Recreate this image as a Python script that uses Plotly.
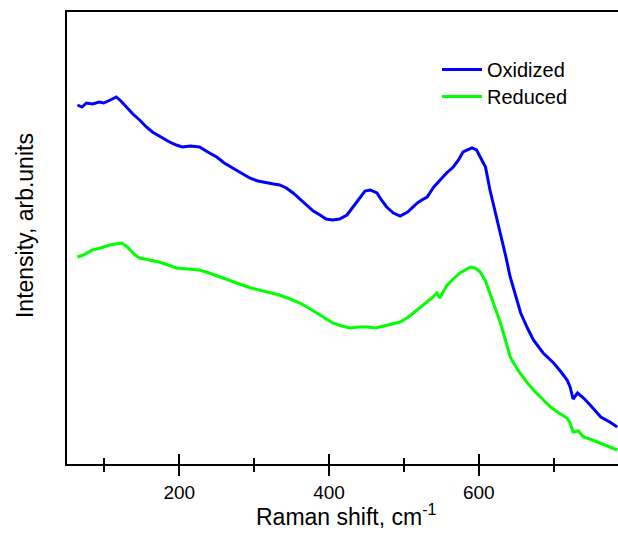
import plotly.graph_objects as go

# Raman shift (cm^-1) and intensities (arb. units)
ox_x = [64, 70, 76, 84, 93, 99, 105, 111, 116, 122, 129, 138, 147, 156, 164, 175,
        187, 196, 204, 215, 227, 238, 250, 260, 271, 282, 294, 305, 317, 326, 334,
        343, 352, 361, 370, 379, 388, 396, 405, 414, 424, 432, 441, 448, 455, 464,
        470, 477, 486, 495, 505, 512, 518, 524, 531, 540, 548, 557, 566, 573, 579,
        585, 591, 597, 602, 609, 615, 622, 629, 636, 642, 649, 656, 665, 673, 686,
        700, 710, 718, 722, 726, 732, 740, 750, 763, 775, 785]
ox_y = [358, 356, 360, 359, 361, 360, 362, 364, 366, 362, 356, 349, 343, 336, 331,
        326, 321, 318, 316, 317, 316, 311, 306, 300, 295, 290, 285, 282, 280, 279,
        278, 275, 270, 264, 258, 252, 248, 244, 243, 244, 248, 256, 266, 272, 273,
        270, 263, 256, 250, 247, 251, 256, 260, 263, 266, 276, 283, 290, 296, 303,
        311, 313, 315, 313, 306, 296, 273, 252, 230, 207, 186, 167, 150, 135, 123,
        110, 100, 91, 83, 76, 64, 70, 65, 57, 46, 41, 36]

red_x = [64, 72, 84, 95, 107, 115, 123, 129, 135, 141, 147, 160, 173, 185, 196, 211,
         227, 240, 254, 269, 284, 296, 307, 320, 334, 348, 361, 373, 384, 395, 405,
         417, 428, 440, 451, 462, 472, 484, 495, 506, 518, 529, 539, 544, 548, 553,
         558, 566, 575, 582, 589, 595, 602, 609, 615, 622, 629, 636, 642, 649, 655,
         664, 673, 685, 696, 707, 718, 722, 726, 733, 740, 752, 763, 775, 785]
red_y = [206, 208, 213, 215, 218, 219, 220, 217, 212, 208, 205, 203, 201, 198, 195,
         194, 193, 190, 186, 182, 178, 175, 173, 170, 168, 164, 160, 155, 150, 145,
         140, 137, 135, 136, 136, 135, 137, 139, 141, 146, 153, 160, 166, 170, 165,
         172, 178, 184, 190, 193, 196, 195, 191, 182, 170, 156, 140, 122, 106, 97,
         90, 81, 73, 64, 56, 50, 45, 40, 31, 32, 26, 23, 20, 16, 13]

x_range = [50, 786]
major_ticks = [200, 400, 600]
major_labels = ["200", "400", "600"]
minor_ticks = [100, 300, 500, 700]

fig = go.Figure()
fig.add_trace(go.Scatter(x=ox_x, y=ox_y, mode="lines", name="Oxidized",
                         line=dict(color="#0000FF", width=3), legend="legend"))
fig.add_trace(go.Scatter(x=red_x, y=red_y, mode="lines", name="Reduced",
                         line=dict(color="#00FF00", width=3), legend="legend2"))
# invisible trace on the overlay axis so the inside ticks render
fig.add_trace(go.Scatter(x=[x_range[0]], y=[0], xaxis="x2", mode="markers",
                         marker=dict(opacity=0), showlegend=False, hoverinfo="skip"))

font_family = "Liberation Sans, Arial, sans-serif"
leg_common = dict(xanchor="left", yanchor="top", bgcolor="rgba(0,0,0,0)",
                  font=dict(size=20, family=font_family), itemwidth=40)
fig.update_layout(
    width=618, height=533,
    margin=dict(l=67, r=0, t=12, b=69),
    paper_bgcolor="white", plot_bgcolor="white",
    font=dict(family=font_family, color="black"),
    showlegend=True,
    legend=dict(x=0.6715, y=0.916, **leg_common),
    legend2=dict(x=0.6715, y=0.856, **leg_common),
    xaxis=dict(range=x_range, showgrid=False, zeroline=False,
               showline=True, linecolor="black", linewidth=2, mirror=True,
               ticks="outside", ticklen=10, tickwidth=1.5, tickcolor="black",
               tickvals=major_ticks, ticktext=major_labels,
               tickfont=dict(size=19, family=font_family),
               minor=dict(tickvals=minor_ticks, ticks="outside",
                          ticklen=6, tickwidth=1.5, tickcolor="black")),
    xaxis2=dict(range=x_range, overlaying="x", anchor="y", side="bottom",
                showgrid=False, zeroline=False, showline=False,
                ticks="inside", ticklen=10, tickwidth=1.5, tickcolor="black",
                tickvals=major_ticks, showticklabels=False,
                minor=dict(tickvals=minor_ticks, ticks="inside",
                           ticklen=6, tickwidth=1.5, tickcolor="black")),
    yaxis=dict(range=[-1, 451], showgrid=False, zeroline=False,
               showline=True, linecolor="black", linewidth=2,
               showticklabels=False, ticks=""),
    annotations=[
        dict(text="Raman shift, cm<sup>-1</sup>", xref="paper", yref="paper",
             x=0.508, y=-0.1515, xanchor="center", yanchor="bottom",
             showarrow=False, font=dict(size=23, family=font_family)),
        dict(text="Intensity, arb.units", xref="paper", yref="paper",
             x=-0.0762, y=0.5265, xanchor="center", yanchor="middle",
             textangle=-90, showarrow=False,
             font=dict(size=23, family=font_family)),
    ],
)

fig.write_html("out.html")
